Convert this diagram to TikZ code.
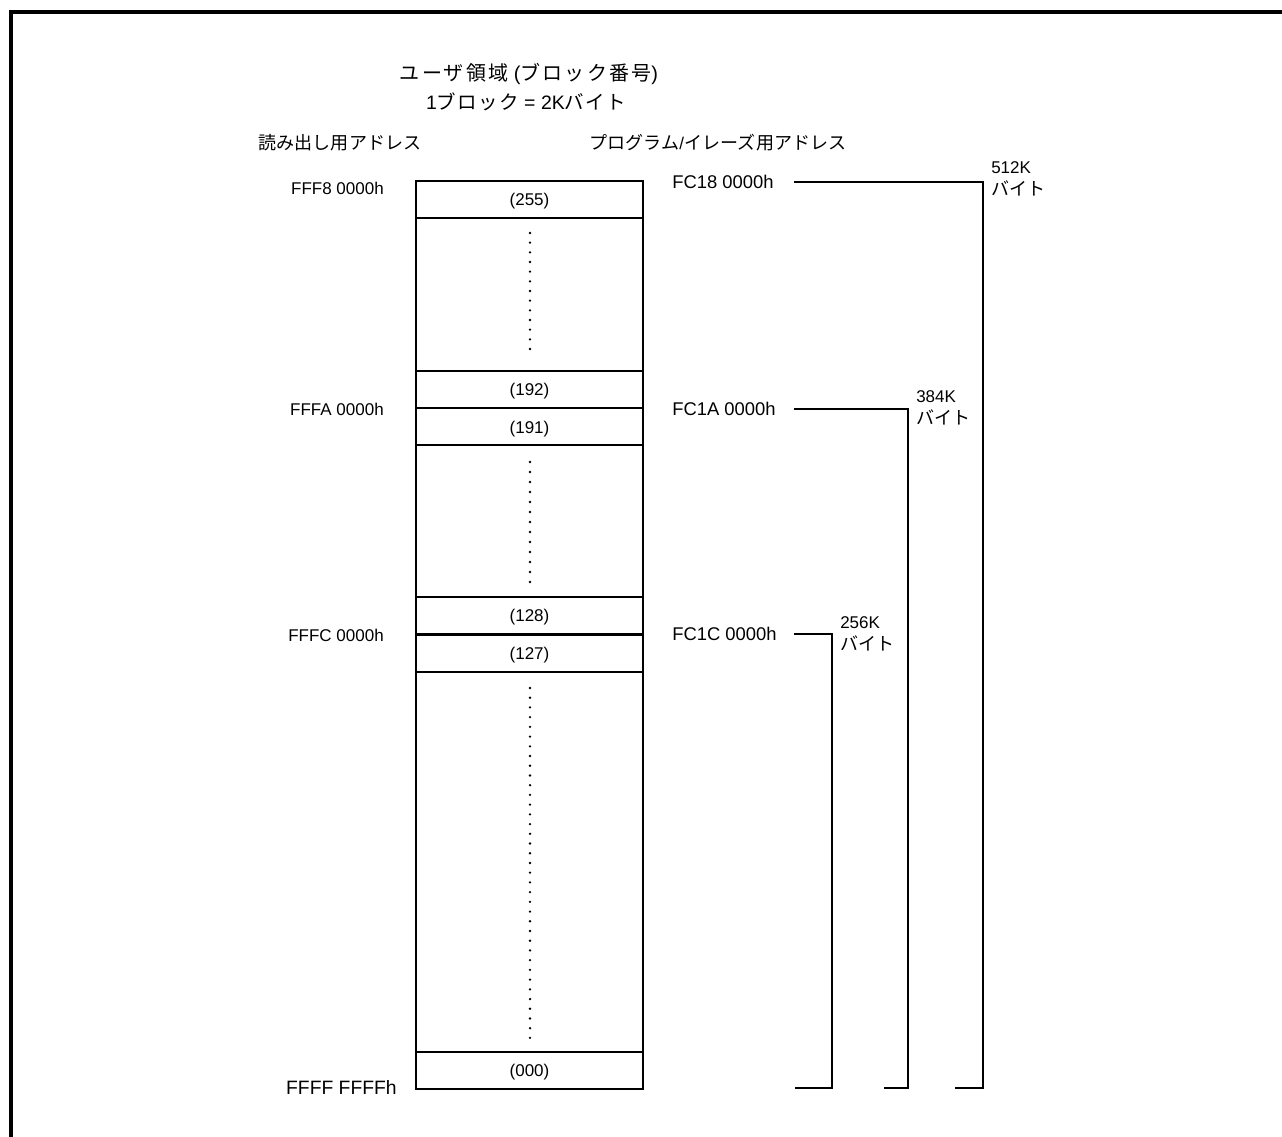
\documentclass[tikz,border=0pt]{standalone}
\usepackage{fontspec}
\setmainfont{Liberation Sans}
\newfontfamily\cjk[Scale=1.06,LetterSpace=1]{Noto Sans CJK JP}
\newfontfamily\cjkt[LetterSpace=11]{Noto Sans CJK JP}
\newfontfamily\cjku[LetterSpace=7]{Noto Sans CJK JP}
\newcommand{\jp}[1]{{\cjk #1}}
\newcommand{\jt}[1]{{\cjkt #1}}
\newcommand{\ju}[1]{{\cjku #1}}
\begin{document}
\begin{tikzpicture}[x=0.75pt,y=-0.75pt,
  lab/.style={font=\fontsize{12.75}{16.5}\selectfont, inner sep=0pt},
  rlab/.style={font=\fontsize{13.8}{16.5}\selectfont, inner sep=0pt},
  ttl/.style={font=\fontsize{15}{17}\selectfont, inner sep=0pt},
  ttlb/.style={font=\fontsize{14.6}{17}\selectfont, inner sep=0pt},
  blk/.style={draw, line width=1.5pt, minimum width=170.25pt, minimum height=27.75pt,
              inner sep=0pt, text height=10.8pt, text depth=1.5pt,
              font=\fontsize{12.75}{15}\selectfont},
  boxline/.style={line width=1.5pt},
  brk/.style={line width=1.5pt},
  frame/.style={line width=3pt}]
\useasboundingbox (0,0) rectangle (1282,1137);
% outer frame (top and left)
\draw[frame] (10.5,1137) -- (10.5,12.5) -- (1282,12.5);
% titles
\node[ttl] (t1) at (529,74) {\jt{ユーザ領域} (\jt{ブロック番号})};
\node[ttlb] (t2) at (526,102) {1\ju{ブロック} = 2K\ju{バイト}};
\node[lab] (hl) at (340,143) {\jp{読み出し用アドレス}};
\node[lab] (hr) at (718,143) {\jp{プログラム}/\jp{イレーズ用アドレス}};
% memory box
\draw[boxline] (416,181) rectangle (643,1089);
\node[blk] (b255) at (529.5,199.5) {(255)};
\node[blk] (b192) at (529.5,389.5) {(192)};
\node[blk] (b191) at (529.5,427) {(191)};
\node[blk] (b128) at (529.5,615.5) {(128)};
\node[blk] (b127) at (529.5,653) {(127)};
\node[blk] (b000) at (529.5,1070) {(000)};
% dots
\foreach \i in {0,...,12} \fill (530,233+\i*9.667) circle (1.3);
\foreach \i in {0,...,12} \fill (530,462+\i*10) circle (1.3);
\foreach \i in {0,...,36} \fill (530,688+\i*9.72) circle (1.3);
% left addresses
\node[lab,anchor=east] (a8) at (384,188) {FFF8 0000h};
\node[lab,anchor=east] (aA) at (384,409) {FFFA 0000h};
\node[lab,anchor=east] (aC) at (384,635) {FFFC 0000h};
\node[rlab,anchor=east,font=\fontsize{14.5}{16.5}\selectfont] (aF) at (397,1087) {FFFF FFFFh};
% right addresses
\node[rlab,anchor=west] (p18) at (672,182) {FC18 0000h};
\node[rlab,anchor=west] (p1A) at (672,409) {FC1A 0000h};
\node[rlab,anchor=west] (p1C) at (672,634) {FC1C 0000h};
% bracket coordinates
\coordinate (s18) at (794,182);
\coordinate (s1A) at (794,409);
\coordinate (s1C) at (794,634);
\coordinate (v512) at (983,1088);
\coordinate (v384) at (908,1088);
\coordinate (v256) at (832,1088);
\coordinate (e512) at (955,1088);
\coordinate (e384) at (884,1088);
\coordinate (e256) at (795,1088);
\draw[brk] (s18) -| (v512) -- (e512);
\draw[brk] (s1A) -| (v384) -- (e384);
\draw[brk] (s1C) -| (v256) -- (e256);
% size labels
\node[lab,anchor=north west,align=left] (k512) at (991,161) {512K\\\jp{バイト}};
\node[lab,anchor=north west,align=left] (k384) at (916,390) {384K\\\jp{バイト}};
\node[lab,anchor=north west,align=left] (k256) at (840,616) {256K\\\jp{バイト}};
\end{tikzpicture}
\end{document}
